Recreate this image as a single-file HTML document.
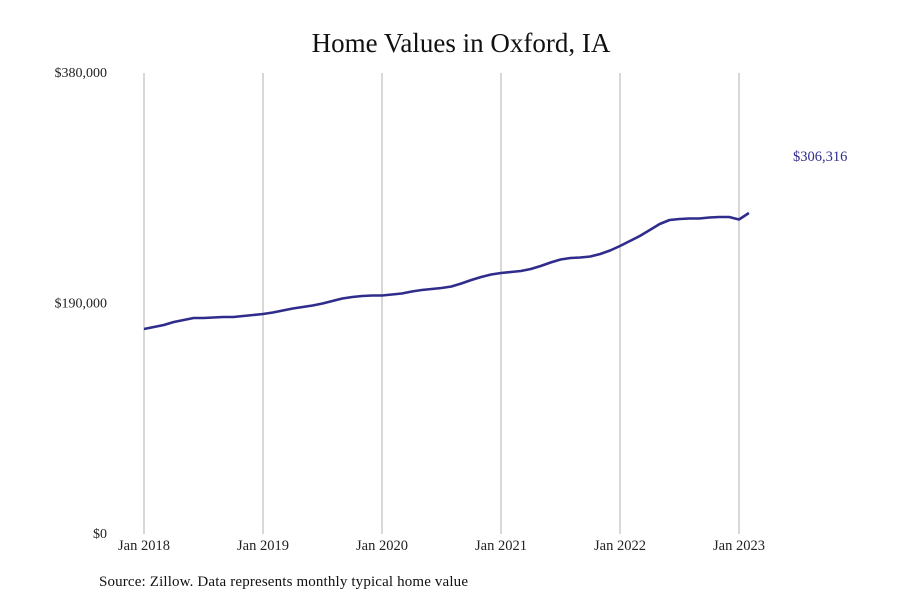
<!DOCTYPE html>
<html><head><meta charset="utf-8"><style>
body{margin:0;background:#fff;}
svg{display:block;font-family:"Liberation Serif",serif;}
</style></head><body>
<svg id="chart" width="900" height="600">
<text x="461" y="52" text-anchor="middle" font-size="27" fill="#111">Home Values in Oxford, IA</text>
<g id="grid"></g><g id="yticks"></g><g id="xticks"></g>
<path id="line" fill="none" stroke="#2f2c8c" stroke-width="2.6" stroke-linejoin="round"></path>
<text x="793" y="161" font-size="14.5" fill="#2f2c8c">$306,316</text>
<text x="99" y="586" font-size="15" fill="#111" textLength="369">Source: Zillow. Data represents monthly typical home value</text>
</svg>
<script>
const values=[168980,170630,172280,174750,176400,178050,178050,178460,178870,178870,179700,180520,
181350,182580,184230,185880,187120,188350,190000,192060,194130,195360,196190,196600,
196600,197420,198250,199900,201130,201960,202780,204020,206490,209370,211850,213910,
215140,215970,216790,218440,220910,223800,226270,227510,227920,228740,230800,233690,
237400,241520,245640,250590,255530,258830,259650,260070,260070,260890,261310,261310,
259240,264600];
const yTickValues=[0,190000,380000];
const yTickLabels=["$0","$190,000","$380,000"];
const xTickLabels=["Jan 2018","Jan 2019","Jan 2020","Jan 2021","Jan 2022","Jan 2023"];
const ns="http://www.w3.org/2000/svg";
const x=m=>144+m*(595/60);
const y=v=>534-v/380000*461;
function mk(tag,attrs,parent){const e=document.createElementNS(ns,tag);for(const k in attrs)e.setAttribute(k,attrs[k]);parent.appendChild(e);return e;}
const grid=document.getElementById('grid'),yt=document.getElementById('yticks'),xt=document.getElementById('xticks');
xTickLabels.forEach((l,i)=>{
 const g=mk('line',{x1:x(i*12),x2:x(i*12),y1:73,y2:534,stroke:'#b0b0b0','stroke-width':1},grid);
 
 
 const t=mk('text',{x:x(i*12),y:550,'text-anchor':'middle','font-size':14.5,fill:'#222'},xt);
 t.textContent=l;
 
 
});
yTickValues.forEach((v,i)=>{
 const t=mk('text',{x:107,y:y(v)+4,'text-anchor':'end','font-size':14,fill:'#222'},yt);
 t.textContent=yTickLabels[i];
 
 
});
document.getElementById('line').setAttribute('d',values.map((v,i)=>(i?'L':'M')+x(i).toFixed(1)+','+y(v).toFixed(1)).join(''));
</script>
</body></html>
